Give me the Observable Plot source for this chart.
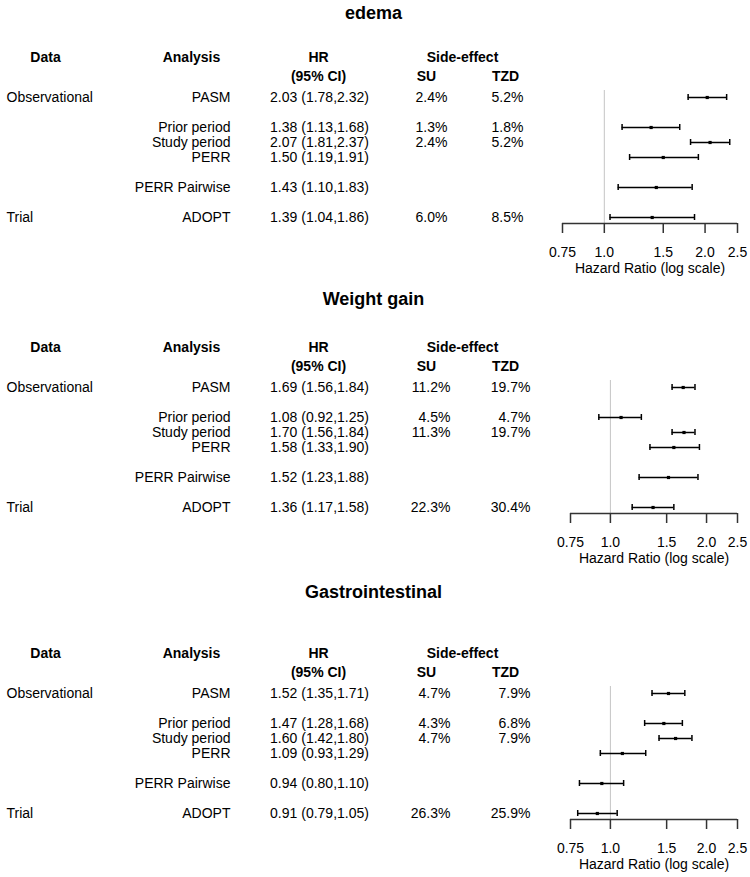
<!DOCTYPE html>
<html>
<head>
<meta charset="utf-8">
<script src="https://cdn.jsdelivr.net/npm/d3@7"></script>
<script src="https://cdn.jsdelivr.net/npm/@observablehq/plot@0.6"></script>
<style>
  body { margin: 0; background: #fff; }
  #chart { width: 750px; }
  #chart svg { display: block; }
</style>
</head>
<body>
<div id="chart"></div>
<script>
// ---------------- data ----------------
const panelTitles = ["edema", "Weight gain", "Gastrointestinal"];
const dataSources = ["Observational", "", "", "", "", "Trial"];
const analyses = ["PASM", "Prior period", "Study period", "PERR", "PERR Pairwise", "ADOPT"];
const rowSlots = [0, 2, 3, 4, 6, 8];

const edemaHR  = [2.03, 1.38, 2.07, 1.50, 1.43, 1.39];
const edemaLo  = [1.78, 1.13, 1.81, 1.19, 1.10, 1.04];
const edemaHi  = [2.32, 1.68, 2.37, 1.91, 1.83, 1.86];
const edemaSU  = ["2.4%", "1.3%", "2.4%", "", "", "6.0%"];
const edemaTZD = ["5.2%", "1.8%", "5.2%", "", "", "8.5%"];

const weightHR  = [1.69, 1.08, 1.70, 1.58, 1.52, 1.36];
const weightLo  = [1.56, 0.92, 1.56, 1.33, 1.23, 1.17];
const weightHi  = [1.84, 1.25, 1.84, 1.90, 1.88, 1.58];
const weightSU  = ["11.2%", "4.5%", "11.3%", "", "", "22.3%"];
const weightTZD = ["19.7%", "4.7%", "19.7%", "", "", "30.4%"];

const giHR  = [1.52, 1.47, 1.60, 1.09, 0.94, 0.91];
const giLo  = [1.35, 1.28, 1.42, 0.93, 0.80, 0.79];
const giHi  = [1.71, 1.68, 1.80, 1.29, 1.10, 1.05];
const giSU  = ["4.7%", "4.3%", "4.7%", "", "", "26.3%"];
const giTZD = ["7.9%", "6.8%", "7.9%", "", "", "25.9%"];

const headerTop = ["Data", "Analysis", "HR", "Side-effect"];
const headerBottom = ["(95% CI)", "SU", "TZD"];

const xTicks = [0.75, 1, 1.5, 2, 2.5];
const xTickLabels = ["0.75", "1.0", "1.5", "2.0", "2.5"];
const xAxisTitle = "Hazard Ratio (log scale)";
const refHR = 1;

// ---------------- layout (style only) ----------------
const FONT = "'Liberation Sans', Arial, Helvetica, sans-serif";
const W = 750;
const axisRow = 8.4;
const layouts = [
  {height: 285, marginTop: 97,  marginBottom: 62, marginLeft: 562, titleDy: -84.7, suRight: 447, tzdRight: 523},
  {height: 295, marginTop: 102, marginBottom: 67, marginLeft: 570, titleDy: -88.3, suRight: 450, tzdRight: 530},
  {height: 297, marginTop: 113, marginBottom: 58, marginLeft: 570, titleDy: -101,  suRight: 450, tzdRight: 530}
];
const colTitle = 373;
const headTopX = [45, 191, 318, 462];
const headBottomX = [318, 426, 505];
const dataLeft = 6, analysisRight = 230, hrCenter = 319;

const panelSeries = [
  [edemaHR, edemaLo, edemaHi, edemaSU, edemaTZD],
  [weightHR, weightLo, weightHi, weightSU, weightTZD],
  [giHR, giLo, giHi, giSU, giTZD]
];

const container = document.getElementById("chart");

panelSeries.forEach(([hr, lo, hi, su, tzd], p) => {
  const L = layouts[p];
  const ml = L.marginLeft;
  const rows = analyses.map((a, i) => ({
    source: dataSources[i],
    analysis: a,
    row: rowSlots[i],
    hr: hr[i], lo: lo[i], hi: hi[i],
    hrText: `${hr[i].toFixed(2)} (${lo[i].toFixed(2)},${hi[i].toFixed(2)})`,
    su: su[i], tzd: tzd[i]
  }));

  const rowText = (field, x, anchor) =>
    Plot.text(rows, {y: "row", text: field, frameAnchor: "left", dx: x - ml, lineAnchor: "middle",
                     textAnchor: anchor, fontSize: 14, fill: "black"});

  const marks = [
    // title
    Plot.text([panelTitles[p]], {text: d => d, frameAnchor: "top-left", dx: colTitle - ml, dy: L.titleDy,
      lineAnchor: "middle", textAnchor: "middle", fontSize: 18, fontWeight: "bold", fill: "black"}),
    // headers
    ...headerTop.map((h, k) => Plot.text([h], {text: d => d, frameAnchor: "top-left", dx: headTopX[k] - ml, dy: -40.3,
      lineAnchor: "middle", textAnchor: "middle", fontSize: 14, fontWeight: "bold", fill: "black"})),
    ...headerBottom.map((h, k) => Plot.text([h], {text: d => d, frameAnchor: "top-left", dx: headBottomX[k] - ml, dy: -21.2,
      lineAnchor: "middle", textAnchor: "middle", fontSize: 14, fontWeight: "bold", fill: "black"})),
    // table columns
    rowText("source", dataLeft, "start"),
    rowText("analysis", analysisRight, "end"),
    rowText("hrText", hrCenter, "middle"),
    rowText("su", L.suRight, "end"),
    rowText("tzd", L.tzdRight, "end"),
    // reference line
    Plot.ruleX([refHR], {stroke: "#c4c4c4", strokeWidth: 1, insetTop: -7}),
    // CI whiskers
    Plot.ruleY(rows, {x1: "lo", x2: "hi", y: "row", stroke: "black", strokeWidth: 1.5}),
    Plot.ruleX(rows, {x: "lo", y1: "row", y2: "row", insetTop: -3, insetBottom: -3, stroke: "black", strokeWidth: 1.5}),
    Plot.ruleX(rows, {x: "hi", y1: "row", y2: "row", insetTop: -3, insetBottom: -3, stroke: "black", strokeWidth: 1.5}),
    Plot.dot(rows, {x: "hr", y: "row", symbol: "square", r: 1.8, fill: "black", stroke: "none"}),
    // axis
    Plot.ruleY([axisRow], {x1: xTicks[0], x2: xTicks[xTicks.length - 1], stroke: "#333", strokeWidth: 1.5}),
    Plot.axisX({ticks: xTicks, tickFormat: d => xTickLabels[xTicks.indexOf(d)], tickSize: 10, tickPadding: 14,
      stroke: "#333", strokeWidth: 1.5, fill: "black", label: null, fontSize: 14}),
    Plot.text([xAxisTitle], {text: d => d, frameAnchor: "bottom", dy: 45.5, lineAnchor: "middle", textAnchor: "middle",
      fontSize: 14, fill: "black"})
  ];

  const svg = Plot.plot({
    width: W,
    height: L.height,
    marginTop: L.marginTop,
    marginBottom: L.marginBottom,
    marginLeft: ml,
    marginRight: 13,
    style: {fontFamily: FONT, fontSize: "14px", background: "white", color: "black", overflow: "visible"},
    x: {type: "log", domain: [xTicks[0], xTicks[xTicks.length - 1]], axis: null},
    y: {domain: [0, axisRow], reverse: true, axis: null},
    marks
  });
  container.appendChild(svg);
});
</script>
</body>
</html>
